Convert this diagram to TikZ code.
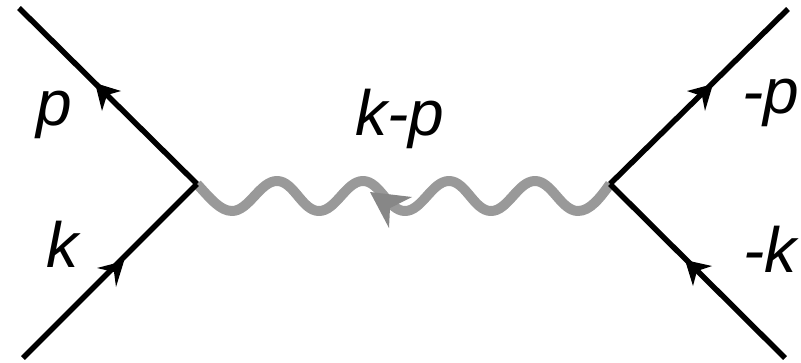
\documentclass[tikz,border=0pt]{standalone}
\usepackage{fontspec}
\setmainfont{Liberation Sans}
\begin{document}
\begin{tikzpicture}[x=1pt,y=-1pt,
  fermion/.style={draw=black,line width=5.5pt},
  boson/.style={draw=black!40,line width=10pt,line join=round},
  fermiontip/.style={fill=black},
  bosontip/.style={fill=black!47},
  lab/.style={anchor=base west,inner sep=0pt,outer sep=0pt,font=\fontsize{64}{64}\selectfont\itshape}]
\useasboundingbox (0,0) rectangle (801,362);
\coordinate (vl) at (197,184);
\coordinate (vr) at (610,184);
\coordinate (pend) at (19,8);
\coordinate (kend) at (23,358);
\coordinate (mpend) at (788,9);
\coordinate (mkend) at (785,358);
\draw[boson] (vl)
  .. controls (210,198) and (220,211) .. (232,211)
  .. controls (249,211) and (260,181) .. (277,181)
  .. controls (294,181) and (302,211) .. (319,211)
  .. controls (336,211) and (346,181) .. (363,181)
  .. controls (380,181) and (388,211) .. (405,211)
  .. controls (422,211) and (432,181) .. (449,181)
  .. controls (466,181) and (474,211) .. (491,211)
  .. controls (508,211) and (518,181) .. (535,181)
  .. controls (552,181) and (561,211) .. (578,211)
  .. controls (590,211) and (600,198) .. (vr);
\draw[fermion] (pend) -- (vl);
\draw[fermion] (kend) -- (vl);
\draw[fermion] (vr) -- (mpend);
\draw[fermion] (vr) -- (mkend);
\fill[fermiontip] (95,83) -- (121,91) -- (107,95) -- (102,111) -- cycle;
\fill[fermiontip] (124,261) -- (97,268) -- (114,272) -- (116,287) -- cycle;
\fill[fermiontip] (713,84) -- (687,91) -- (702,96) -- (705,111) -- cycle;
\fill[fermiontip] (685,260) -- (712,266) -- (697,271) -- (693,286) -- cycle;
\fill[bosontip] (370,192) -- (412,197) -- (390,208) -- (389,228) -- cycle;
\node[lab] (lp) at (36,125) {p};
\node[lab] (lk) at (46,267) {k};
\node[lab] (lkp) at (355,135) {k-p};
\node[lab] (lmp) at (742,113) {-p};
\node[lab] (lmk) at (743,272) {-k};
\end{tikzpicture}
\end{document}
